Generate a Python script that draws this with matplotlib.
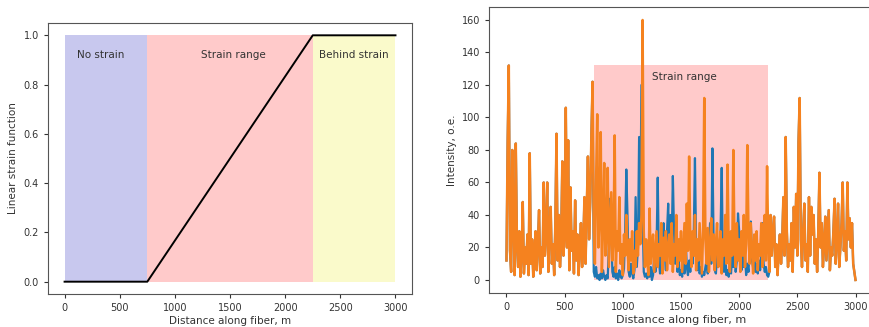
import numpy as np
import matplotlib
matplotlib.use("Agg")
import matplotlib.pyplot as plt

# ---- data: left panel (linear strain function) ----
strain_x = [0, 750, 2250, 3000]
strain_y = [0.0, 0.0, 1.0, 1.0]
region_edges = [0, 750, 2250, 3000]
region_labels = ["No strain", "Strain range", "Behind strain"]
region_colors = ["#c8c8ee", "#ffcaca", "#fafacb"]
region_label_x = [325, 1527, 2620]

# ---- data: right panel (intensity along fiber, 10 m step) ----
dist_step = 10
intensity_shifted = [
    12, 85, 132, 18, 5, 80, 38, 3, 84, 22,
    8, 30, 2, 15, 48, 4, 20, 10, 28, 3,
    78, 10, 25, 2, 18, 30, 6, 22, 43, 4,
    20, 8, 60, 15, 28, 60, 5, 32, 45, 10,
    22, 3, 35, 90, 12, 40, 8, 25, 73, 15,
    30, 106, 20, 86, 6, 57, 18, 30, 4, 49,
    12, 28, 3, 20, 35, 8, 22, 51, 10, 45,
    76, 25, 48, 90, 122, 30, 10, 60, 102, 20,
    40, 91, 5, 35, 72, 15, 28, 69, 8, 30,
    54, 12, 25, 89, 5, 30, 18, 51, 10, 22,
    3, 28, 15, 40, 20, 6, 25, 12, 30, 4,
    18, 8, 30, 15, 35, 22, 40, 160, 30, 8,
    25, 12, 3, 44, 10, 20, 28, 5, 18, 30,
    8, 22, 15, 35, 4, 26, 12, 30, 6, 20,
    28, 10, 35, 5, 22, 15, 40, 8, 25, 12,
    30, 5, 20, 35, 10, 47, 18, 76, 25, 8,
    30, 15, 40, 6, 25, 12, 35, 20, 4, 30,
    112, 25, 10, 32, 5, 20, 38, 12, 28, 6,
    22, 35, 8, 18, 30, 4, 25, 15, 40, 10,
    71, 20, 5, 30, 15, 80, 22, 8, 35, 12,
    25, 5, 30, 15, 40, 8, 22, 83, 30, 10,
    35, 18, 4, 28, 12, 30, 6, 22, 15, 35,
    8, 25, 40, 12, 70, 20, 5, 40, 15, 30,
    39, 8, 22, 3, 18, 28, 10, 25, 51, 15,
    88, 30, 8, 22, 12, 35, 5, 45, 20, 53,
    15, 85, 112, 25, 8, 30, 47, 12, 22, 5,
    51, 15, 45, 28, 40, 10, 25, 5, 30, 66,
    20, 35, 8, 22, 39, 12, 28, 43, 6, 20,
    15, 30, 50, 10, 25, 47, 8, 20, 35, 60,
    18, 30, 12, 60, 25, 38, 20, 35, 10, 5,
    0,
]
# original (unshifted) signal inside the strain range, 750..2250 m
strain_start, strain_end = 750, 2250
intensity_orig_strain = [
    5, 2, 8, 1, 3,
    0, 4, 1, 6, 2, 0, 3, 1, 20, 50,
    35, 5, 2, 8, 1, 4, 0, 6, 2, 1,
    3, 7, 30, 68, 40, 5, 2, 10, 4, 1,
    6, 51, 8, 20, 88, 35, 120, 40, 5, 2,
    4, 1, 6, 2, 8, 0, 3, 15, 5, 20,
    63, 12, 4, 25, 8, 35, 18, 6, 30, 47,
    15, 40, 22, 64, 30, 10, 35, 5, 12, 3,
    6, 2, 15, 4, 25, 8, 3, 12, 5, 20,
    10, 30, 75, 20, 6, 15, 4, 8, 2, 5,
    3, 8, 12, 4, 20, 35, 10, 81, 25, 6,
    4, 15, 8, 20, 30, 69, 12, 5, 18, 3,
    6, 2, 10, 4, 15, 8, 22, 5, 12, 41,
    30, 12, 6, 20, 8, 15, 3, 10, 5, 18,
    36, 12, 8, 15, 5, 10, 4, 12, 6, 15,
    35, 10, 5, 8, 3, 2,
]
strain_box_top = 132

dist = np.arange(len(intensity_shifted)) * dist_step
orange = np.array(intensity_shifted, dtype=float)
blue = orange.copy()
i0 = strain_start // dist_step
blue[i0:i0 + len(intensity_orig_strain)] = intensity_orig_strain

fig = plt.figure(figsize=(8.70, 3.27), dpi=100)
ax1 = fig.add_axes([0.0552, 0.1009, 0.4184, 0.8288])
ax2 = fig.add_axes([0.5621, 0.1040, 0.4413, 0.8746])

tick_fs = 7
label_fs = 7.5

# left panel
for k in range(3):
    ax1.fill_between([region_edges[k], region_edges[k + 1]], 0, 1,
                     color=region_colors[k], linewidth=0)
    ax1.text(region_label_x[k], 0.92, region_labels[k], ha="center", va="center",
             fontsize=7.5, color="#333333")
ax1.plot(strain_x, strain_y, color="black", linewidth=1.4)
ax1.set_xlim(-150, 3150)
ax1.set_ylim(-0.05, 1.05)
ax1.set_xticks([0, 500, 1000, 1500, 2000, 2500, 3000])
ax1.set_yticks([0.0, 0.2, 0.4, 0.6, 0.8, 1.0])
ax1.set_xlabel("Distance along fiber, m", fontsize=label_fs, labelpad=2, color="#333333")
ax1.set_ylabel("Linear strain function", fontsize=label_fs, labelpad=4, color="#333333")
ax1.tick_params(labelsize=tick_fs, length=3, colors="#333333")

# right panel
ax2.fill_between([strain_start, strain_end], 0, strain_box_top,
                 color="#ffcaca", linewidth=0)
ax2.text(1530, 125, "Strain range", ha="center", va="center", fontsize=7.5, color="#333333")
ax2.plot(dist, blue, color="#1f77b4", linewidth=1.6)
ax2.plot(dist, orange, color="#f5821f", linewidth=1.8)
ax2.set_xlim(-150, 3150)
ax2.set_ylim(-8, 168)
ax2.set_xticks([0, 500, 1000, 1500, 2000, 2500, 3000])
ax2.set_yticks(range(0, 161, 20))
ax2.set_xlabel("Distance along fiber, m", fontsize=8, labelpad=2, color="#333333")
ax2.set_ylabel("Intensity, o.e.", fontsize=label_fs, labelpad=3, color="#333333")
ax2.tick_params(labelsize=tick_fs, length=3, colors="#333333")
ax2.spines["right"].set_visible(False)

for ax in (ax1, ax2):
    for s in ax.spines.values():
        s.set_color("#555555")

fig.savefig("out.png", dpi=100)
